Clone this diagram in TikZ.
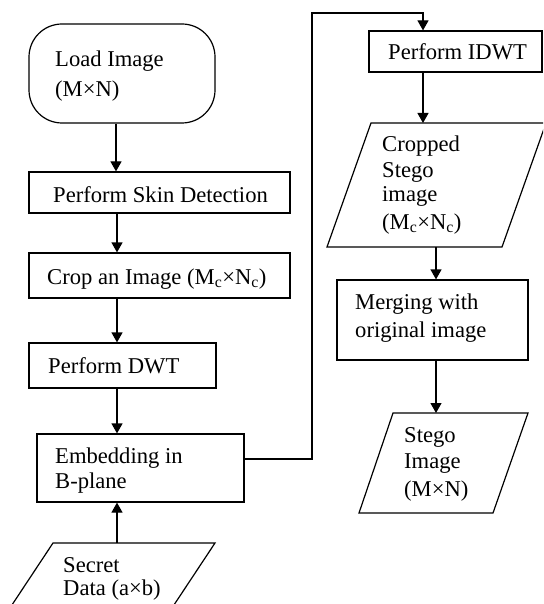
\documentclass[tikz,border=0pt]{standalone}
\usepackage{fontspec}
\setmainfont{Liberation Serif}
\usetikzlibrary{arrows.meta}
\tikzset{
  boxshape/.style={draw, line width=1.2pt, rectangle, inner sep=0pt},
  lbl/.style={anchor=base west, inner sep=0pt, font=\fontsize{22.6}{25}\selectfont},
  arr/.style={line width=1.2pt, -{Triangle[width=11pt,length=10pt]}},
  plain/.style={line width=1.2pt},
}
\newcommand{\sbc}{\textsubscript{c}}
\begin{document}
\begin{tikzpicture}[x=1pt,y=-1pt]
\useasboundingbox (0,0) rectangle (543,604);
\clip (0,0) rectangle (543,604);
% shapes
\node[boxshape, rounded corners=33pt, minimum width=186pt, minimum height=99pt] (load) at (122,73.5) {};
\node[boxshape, minimum width=261pt, minimum height=41pt] (skin) at (159.5,192.5) {};
\node[boxshape, minimum width=261pt, minimum height=45pt] (crop) at (159.5,275.5) {};
\node[boxshape, minimum width=187pt, minimum height=45pt] (dwt) at (122.5,365.5) {};
\node[boxshape, minimum width=207pt, minimum height=68pt] (emb) at (140.5,468) {};
\node[boxshape, minimum width=173pt, minimum height=41pt] (idwt) at (455.5,51.5) {};
\node[boxshape, minimum width=191pt, minimum height=80pt] (merge) at (432.5,320) {};
% parallelograms
\draw[plain] (53,543) -- (215,543) -- (164,620) -- (2,620) -- cycle;
\coordinate (secrettop) at (117,543);
\draw[plain] (371,123) -- (546,123) -- (502,247) -- (327,247) -- cycle;
\coordinate (cstegotop) at (423,123);
\coordinate (cstegobot) at (436,247);
\draw[plain] (393,413) -- (528,413) -- (493,513) -- (359,513) -- cycle;
\coordinate (stegotop) at (436,413);
% texts
\node[lbl] (tload1) at (55,67) {Load Image};
\node[lbl] (tload2) at (55,97) {(M×N)};
\node[lbl] (tskin) at (53,202) {Perform Skin Detection};
\node[lbl] (tcrop) at (47,284) {Crop an Image (M\sbc×N\sbc)};
\node[lbl] (tdwt) at (48,373) {Perform DWT};
\node[lbl] (temb1) at (55,463) {Embedding in};
\node[lbl] (temb2) at (55,488) {B-plane};
\node[lbl] (tsec1) at (63,572) {Secret};
\node[lbl] (tsec2) at (63,595) {Data (a×b)};
\node[lbl] (tidwt) at (388,60) {Perform IDWT};
\node[lbl] (tcs1) at (382,152) {Cropped};
\node[lbl] (tcs2) at (382,177) {Stego};
\node[lbl] (tcs3) at (382,201) {image};
\node[lbl] (tcs4) at (382,229) {(M\sbc×N\sbc)};
\node[lbl] (tmer1) at (355,309) {Merging with};
\node[lbl] (tmer2) at (355,337) {original image};
\node[lbl] (tst1) at (404,442) {Stego};
\node[lbl] (tst2) at (404,468) {Image};
\node[lbl] (tst3) at (404,496) {(M×N)};
% connector guides
\coordinate (xa) at (116,0);
\coordinate (xb) at (117,0);
\coordinate (turn1) at (312,459);
\coordinate (turn2) at (312,13);
\coordinate (turn3) at (423,13);
% connectors
\draw[arr] (load.south -| xa) -- (skin.north -| xa);
\draw[arr] (skin.south -| xb) -- (crop.north -| xb);
\draw[arr] (crop.south -| xb) -- (dwt.north -| xb);
\draw[arr] (dwt.south -| xb) -- (emb.north -| xb);
\draw[arr] (secrettop) -- (emb.south -| secrettop);
\draw[arr] (emb.east |- turn1) -- (turn1) -- (turn2) -- (turn3) -- (idwt.north -| turn3);
\draw[arr] (idwt.south -| cstegotop) -- (cstegotop);
\draw[arr] (cstegobot) -- (merge.north -| cstegobot);
\draw[arr] (merge.south -| stegotop) -- (stegotop);
\end{tikzpicture}
\end{document}
